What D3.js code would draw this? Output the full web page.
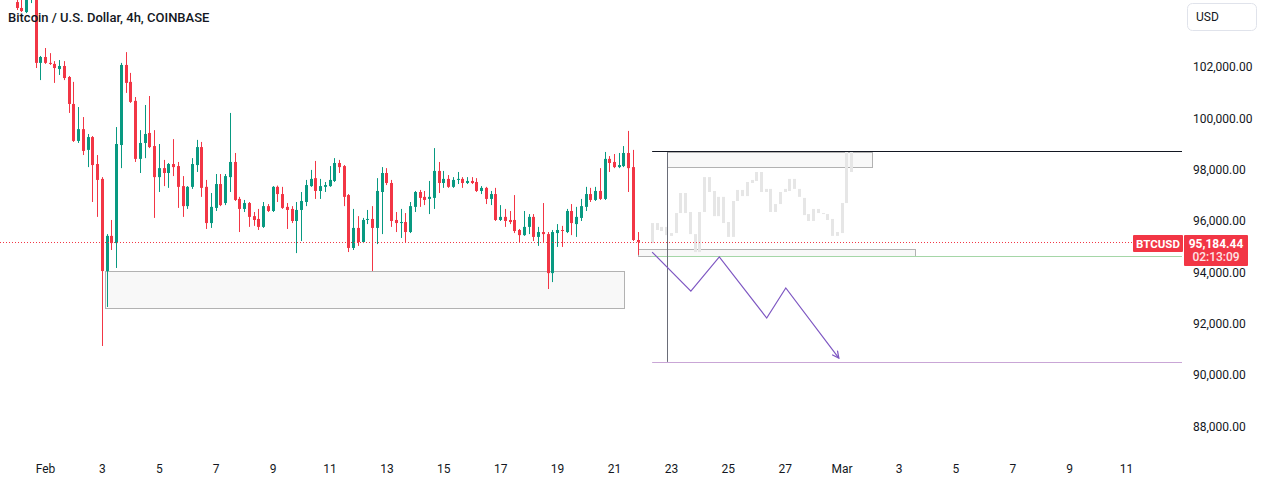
<!DOCTYPE html>
<html>
<head>
<meta charset="utf-8">
<script src="https://cdn.jsdelivr.net/npm/d3@7"></script>
<style>
  body { margin: 0; background: #fff; }
  svg { display: block; font-family: Roboto, "Noto Sans", sans-serif; }
</style>
</head>
<body>
<svg></svg>
<script>
// 4h candles, first one at 2025-01-31 00:00 UTC
var firstCandle = "2025-01-31T00:00:00Z";

var opens = [104530,104300,104140,104610,104770,102160,102390,102160,102120,101920,102040,101610,100560,99120,99580,98770,99270,98220,97640,94050,95420,95140,98960,102080,101420,100680,98420,99040,99430,98920,97710,98060,97870,98220,98140,97360,96580,97330,98180,98880,97330,95920,96510,97440,96700,97710,98300,96860,96470,96700,96190,96080,95770,96580,96390,97330,97050,96550,96470,96000,96430,96740,97360,97670,97170,97330,97360,97560,98260,98140,97010,94950,95730,95180,96040,96080,95730,97130,97870,97480,96040,95920,95960,95570,96550,97130,96940,96860,96900,97950,97480,97640,97330,97600,97640,97480,97560,97520,97170,97290,96860,97050,96040,96160,96040,96040,95650,95450,95770,96160,95380,95570,95490,93970,95530,95650,95570,96390,95880,96120,96550,97050,96820,97170,96860,98420,98300,98100,98140,98650,98100,95260];
var highs = [104690,104610,104730,105000,104840,102430,102740,102540,102230,102270,102230,101650,101420,100440,100050,99390,99310,98570,97710,95490,96040,99660,102160,102580,101770,100830,99540,100520,100870,99540,99000,98380,98260,99190,98300,97750,97360,98450,99160,99080,97600,97090,97830,97830,97830,100210,98650,96940,96820,96740,96350,96470,96740,96660,97360,97380,97330,96700,96580,96740,97130,97600,97990,98340,97640,97520,98140,98450,98380,98180,97050,96470,96190,96120,96430,96580,97670,98100,98060,97600,96350,96470,96310,96740,97170,97210,97170,97560,98840,98300,97950,97790,97710,97910,97710,97710,97710,97670,97360,97330,97170,97290,96620,96470,96390,97010,95690,96390,96270,96270,95770,96700,95570,95650,95880,95810,96470,96660,96550,96860,97330,97290,97330,98060,98690,98530,98610,98650,98920,99510,98770,95570];
var lows = [104220,104140,104100,104490,101960,101490,102120,102080,101380,101690,101490,100210,99080,99040,98570,98100,96740,96160,91130,92650,94870,94170,98060,100990,100600,98300,97870,98450,98840,96120,97130,97360,97290,97750,96510,96160,96470,97250,97910,96940,95690,95730,96390,96580,96620,97130,96780,95570,96350,95770,95810,95650,95730,96350,96350,96740,96470,95690,95920,94750,95220,96580,97330,96860,96860,97130,97330,97520,97870,96580,94790,94870,95030,95140,95880,94050,95100,95490,97400,95770,95570,95340,95180,95530,96350,96550,96620,96270,96470,97090,97290,97290,97290,97440,97290,97440,97440,97130,97050,96660,96620,96000,96000,95770,95880,95530,95180,95420,95490,95220,95030,95140,93350,93620,94990,94990,95530,95450,95380,96000,96390,96740,96780,96820,96820,97910,98060,98060,98100,97130,95220,94680];
var closes = [104300,104180,104610,104770,102160,102390,102160,102120,101960,102040,101570,100560,99120,99580,98730,99270,98180,97600,94050,95420,95140,99000,102080,101380,100640,98420,99040,99390,98880,97710,98060,97870,98220,98100,97330,96580,97330,98220,98880,97290,95920,96550,97440,96620,97750,98300,96820,96470,96700,96160,96040,95770,96580,96390,97330,97050,96510,96430,96000,96430,96780,97400,97640,97170,97360,97400,97600,98260,98100,96940,94950,95730,95180,96040,96080,95730,97170,97870,97480,96000,95920,95960,95570,96580,97130,96900,96820,96940,97950,97480,97640,97330,97600,97640,97480,97560,97480,97170,97290,96860,97050,96040,96160,96000,95960,95610,95450,95770,96160,95380,95570,95490,93970,95570,95650,95610,96390,95920,96160,96580,97050,96820,97170,96860,98420,98260,98100,98180,98650,98060,95260,95184.44];

// grey projected bars pattern, from 2025-02-22 08:00
var ghostStart = "2025-02-22T08:00:00Z";
var ghostTop = [95920,95920,95770,95770,95530,96310,97090,97090,96350,95490,96350,97710,97710,97170,96940,96940,95960,96780,97210,97210,97520,97600,97910,97910,97250,97250,96660,97130,97250,97640,97640,97250,96900,96270,96470,96470,96310,96270,96080,95570,96700,98690,98690];
var ghostBottom = [95140,95650,95610,95450,95420,95530,96310,96310,95490,94790,94790,96350,97130,96190,96190,95920,95380,95380,96780,96970,96970,97480,97560,97130,97130,96350,96350,96660,97130,97170,97250,96940,96230,96000,96000,96310,96270,96040,95420,95420,95530,96700,97910];

var priceTicks = [88000, 90000, 92000, 94000, 96000, 98000, 100000, 102000];
var dateTicks = ["2025-02-01","2025-02-03","2025-02-05","2025-02-07","2025-02-09","2025-02-11","2025-02-13","2025-02-15","2025-02-17","2025-02-19","2025-02-21","2025-02-23","2025-02-25","2025-02-27","2025-03-01","2025-03-03","2025-03-05","2025-03-07","2025-03-09","2025-03-11"];

// drawings: [time, price]
var supportBox = [["2025-02-03T02:30:00Z", 94050], ["2025-02-21T08:30:00Z", 92610]];
var topBox = [["2025-02-22T20:50:00Z", 98680], ["2025-03-02T01:40:00Z", 98090]];
var priceBox = [["2025-02-21T20:10:00Z", 94910], ["2025-03-03T13:40:00Z", 94640]];
var resistanceLine = ["2025-02-22T08:10:00Z", 98715];
var supportLine = ["2025-02-22T07:30:00Z", 94640];
var targetLine = ["2025-02-22T08:10:00Z", 90510];
var measureLine = [["2025-02-22T21:05:00Z", 98680], ["2025-02-22T21:05:00Z", 90510]];
var zigzag = [
  ["2025-02-22T08:10:00Z", 94790],
  ["2025-02-23T16:50:00Z", 93270],
  ["2025-02-24T16:50:00Z", 94600],
  ["2025-02-26T08:50:00Z", 92220],
  ["2025-02-27T00:55:00Z", 93390],
  ["2025-02-28T21:40:00Z", 90660]
];
var lastPrice = 95184.44;
var countdown = "02:13:09";

var w = 1261;
var h = 483;
var plotW = 1182;
var plotH = 450;
var up = "#089981";
var down = "#f23645";

var svg = d3.select("svg").attr("width", w).attr("height", h);

var DAY = 864e5;
var feb1 = Date.parse("2025-02-01T00:00:00Z");
var pxPerDay = 28.45;
var x = d3
  .scaleUtc()
  .domain([new Date(feb1 - (45 / pxPerDay) * DAY), new Date(feb1 + ((plotW - 45) / pxPerDay) * DAY)])
  .range([0, plotW]);
var y = d3.scaleLinear().domain([90000, 102000]).range([375, 67]);

var t0 = Date.parse(firstCandle);
var candles = opens.map((o, i) => ({
  t: new Date(t0 + i * 4 * 36e5),
  o: o,
  h: highs[i],
  l: lows[i],
  c: closes[i],
}));
var g0 = Date.parse(ghostStart);
var ghosts = ghostTop.map((v, i) => ({
  t: new Date(g0 + i * 4 * 36e5),
  a: v,
  b: ghostBottom[i],
}));

svg
  .append("clipPath")
  .attr("id", "plot")
  .append("rect")
  .attr("width", plotW)
  .attr("height", plotH);

var plot = svg.append("g").attr("clip-path", "url(#plot)");

var px = (d) => x(new Date(d));

// rectangles
[supportBox, topBox, priceBox].forEach((b) => {
  plot
    .append("rect")
    .attr("x", Math.round(px(b[0][0])) + 0.5)
    .attr("y", Math.round(y(b[0][1])) + 0.5)
    .attr("width", Math.round(px(b[1][0]) - px(b[0][0])))
    .attr("height", Math.round(y(b[1][1]) - y(b[0][1])))
    .style("fill", "rgba(242,242,242,0.5)")
    .style("stroke", "#b2b2b2")
    .style("stroke-width", 1);
});

// ghost bars
plot
  .selectAll("rect.ghost")
  .data(ghosts)
  .enter()
  .append("rect")
  .attr("class", "ghost")
  .attr("x", (d) => Math.round(x(d.t)) - 1)
  .attr("y", (d) => y(d.a))
  .attr("width", 3)
  .attr("height", (d) => Math.max(1, y(d.b) - y(d.a)))
  .style("fill", "#e6e6e6");

// horizontal lines reaching the right edge
function hline(p, color) {
  var yy = Math.round(y(p[1])) + 0.5;
  plot
    .append("line")
    .attr("x1", px(p[0]))
    .attr("x2", plotW)
    .attr("y1", yy)
    .attr("y2", yy)
    .style("stroke", color)
    .style("stroke-width", 1);
}
hline(resistanceLine, "#131722");
hline(supportLine, "#a5d6a7");
hline(targetLine, "#c9a6d6");

plot
  .append("line")
  .attr("x1", Math.round(px(measureLine[0][0])) + 0.5)
  .attr("x2", Math.round(px(measureLine[1][0])) + 0.5)
  .attr("y1", y(measureLine[0][1]))
  .attr("y2", y(measureLine[1][1]))
  .style("stroke", "#6a6d78")
  .style("stroke-width", 1);

// current price dotted line
var yLast = Math.round(y(lastPrice)) + 0.5;
svg
  .append("line")
  .attr("x1", 0)
  .attr("x2", 1133)
  .attr("y1", yLast)
  .attr("y2", yLast)
  .style("stroke", down)
  .style("stroke-width", 1)
  .style("stroke-dasharray", "1,2");

// candles
var cg = plot
  .selectAll("g.candle")
  .data(candles)
  .enter()
  .append("g")
  .style("fill", (d) => (d.c >= d.o ? up : down))
  .style("stroke", (d) => (d.c >= d.o ? up : down));

cg.append("line")
  .attr("x1", (d) => Math.round(x(d.t)) + 0.5)
  .attr("x2", (d) => Math.round(x(d.t)) + 0.5)
  .attr("y1", (d) => y(d.h))
  .attr("y2", (d) => y(d.l))
  .style("stroke-width", 1);

cg.append("rect")
  .attr("x", (d) => Math.round(x(d.t)) - 1)
  .attr("y", (d) => y(Math.max(d.o, d.c)))
  .attr("width", 3)
  .attr("height", (d) => Math.max(1, Math.abs(y(d.o) - y(d.c))))
  .style("stroke", "none");

// projected path with arrow
svg
  .append("defs")
  .append("marker")
  .attr("id", "arrow")
  .attr("viewBox", "0 0 10 10")
  .attr("refX", 9)
  .attr("refY", 5)
  .attr("markerWidth", 7)
  .attr("markerHeight", 7)
  .attr("orient", "auto")
  .append("path")
  .attr("d", "M1,1 L9,5 L1,9")
  .style("fill", "none")
  .style("stroke", "#7e57c2")
  .style("stroke-width", 1.5);

plot
  .append("path")
  .datum(zigzag)
  .attr("d", d3.line().x((d) => px(d[0])).y((d) => y(d[1])))
  .attr("marker-end", "url(#arrow)")
  .style("fill", "none")
  .style("stroke", "#7e57c2")
  .style("stroke-width", 1.2);

// price axis
var yAxis = svg
  .append("g")
  .attr("transform", "translate(" + plotW + ",0)")
  .call(d3.axisRight(y).tickValues(priceTicks).tickSize(0).tickPadding(11).tickFormat(d3.format(",.2f")));
yAxis.select(".domain").remove();
yAxis.selectAll("text").style("font-size", "12px").style("fill", "#131722").style("font-family", "Roboto, sans-serif");

// time axis
var monthFmt = d3.utcFormat("%b");
var xAxis = svg
  .append("g")
  .attr("transform", "translate(0,461)")
  .call(
    d3
      .axisBottom(x)
      .tickValues(dateTicks.map((d) => new Date(d + "T00:00:00Z")))
      .tickSize(0)
      .tickPadding(3)
      .tickFormat((d) => (d.getUTCDate() === 1 ? monthFmt(d) : d.getUTCDate()))
  );
xAxis.select(".domain").remove();
xAxis.selectAll("text").style("font-size", "12px").style("fill", "#131722").style("font-family", "Roboto, sans-serif");

// title
svg
  .append("text")
  .attr("x", 8)
  .attr("y", 22)
  .text("Bitcoin / U.S. Dollar, 4h, COINBASE")
  .style("font-size", "13px")
  .style("font-weight", 500)
  .style("fill", "#131722");

// currency button
svg
  .append("rect")
  .attr("x", 1187.5)
  .attr("y", 3.5)
  .attr("width", 69)
  .attr("height", 27)
  .attr("rx", 5)
  .style("fill", "#fff")
  .style("stroke", "#e0e3eb");
svg
  .append("text")
  .attr("x", 1196)
  .attr("y", 21)
  .text("USD")
  .style("font-size", "12px")
  .style("fill", "#131722");

// last price labels
svg
  .append("rect")
  .attr("x", 1133)
  .attr("y", 235)
  .attr("width", 50)
  .attr("height", 17)
  .attr("rx", 1)
  .style("fill", down);
svg
  .append("text")
  .attr("x", 1158)
  .attr("y", 247.5)
  .attr("text-anchor", "middle")
  .text("BTCUSD")
  .style("font-size", "11.5px")
  .style("font-weight", 700)
  .style("fill", "#fff");

svg
  .append("rect")
  .attr("x", 1184)
  .attr("y", 235)
  .attr("width", 64)
  .attr("height", 31)
  .attr("rx", 1)
  .style("fill", down);
svg
  .append("text")
  .attr("x", 1216)
  .attr("y", 247.5)
  .attr("text-anchor", "middle")
  .text(d3.format(",.2f")(lastPrice))
  .style("font-size", "12px")
  .style("font-weight", 700)
  .style("fill", "#fff");
svg
  .append("text")
  .attr("x", 1216)
  .attr("y", 261)
  .attr("text-anchor", "middle")
  .text(countdown)
  .style("font-size", "12px")
  .style("font-weight", 500)
  .style("fill", "#fde4e6");
</script>
</body>
</html>
